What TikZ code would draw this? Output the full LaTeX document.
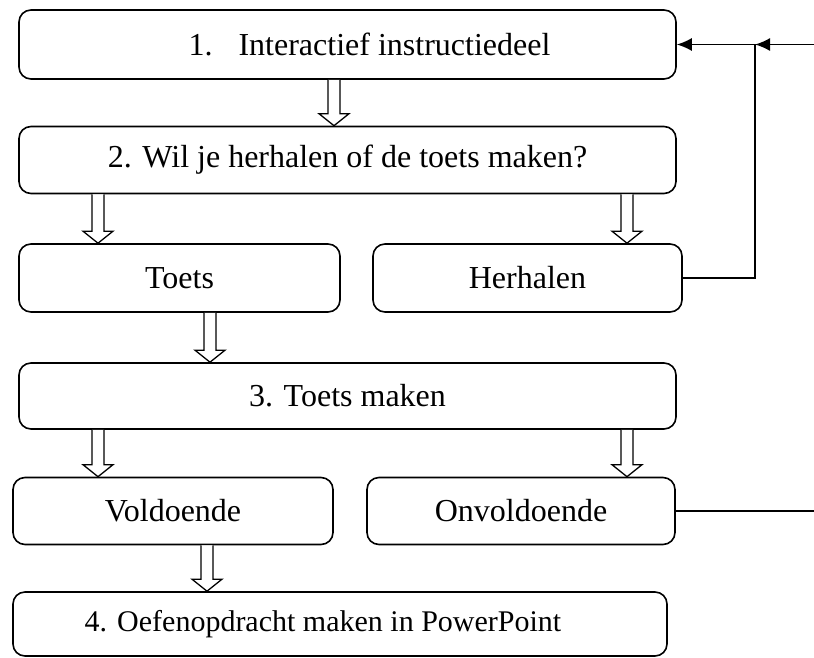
\documentclass[tikz,border=0pt]{standalone}
\usepackage{fontspec}
\setmainfont{Liberation Serif}
\usetikzlibrary{arrows.meta,calc}
\tikzset{>={Latex[length=15pt,width=13pt]}}
\tikzset{
  box/.style={draw, line width=1.6pt, rounded corners=12pt, inner sep=0pt,
    font=\fontsize{32}{36}\selectfont},
  hollow/.style={draw, line width=1.3pt, fill=white},
  link/.style={line width=1.6pt}
}
% hollow block arrow from the bottom of one box to the top of the next
\newcommand{\hollowdown}[3]{%
  \path (#1,0 |- #2.south) coordinate (ha) (#1,0 |- #3.north) coordinate (hb);
  \draw[hollow] ($(ha)+(-6,0)$) -- ($(hb)+(-6,12)$) -- ($(hb)+(-15,12)$) -- (hb)
    -- ($(hb)+(15,12)$) -- ($(hb)+(6,12)$) -- ($(ha)+(6,0)$);
}

\begin{document}
\begin{tikzpicture}[x=1pt,y=1pt]
\useasboundingbox (0,0) rectangle (814,-657);

	\node[box, minimum width=657pt, minimum height=69pt] (instr) at (347.5,-44.5)
		{\hspace*{44pt}1.\hspace{26pt}Interactief instructiedeel};
	\node[box, minimum width=657pt, minimum height=67pt] (keuze) at (347.5,-160)
		{2. Wil je herhalen of de toets maken?};
	\node[box, minimum width=321pt, minimum height=68pt] (toets) at (179.5,-278) {Toets};
	\node[box, minimum width=309pt, minimum height=68pt] (herh) at (527.5,-278) {Herhalen};
	\node[box, minimum width=657pt, minimum height=66pt] (maken) at (347.5,-396)
		{3. Toets maken};
	\node[box, minimum width=320pt, minimum height=67pt] (vold) at (173,-511) {Voldoende};
	\node[box, minimum width=308pt, minimum height=67pt] (onv) at (521,-511) {Onvoldoende};
	\node[box, minimum width=654pt, minimum height=64pt] (oef) at (340,-624)
		{\fontsize{30}{34}\selectfont 4. Oefenopdracht maken in PowerPoint\hspace*{34pt}};

	\hollowdown{334}{instr}{keuze}
	\hollowdown{98}{keuze}{toets}
	\hollowdown{627}{keuze}{herh}
	\hollowdown{210}{toets}{maken}
	\hollowdown{98}{maken}{vold}
	\hollowdown{627}{maken}{onv}
	\hollowdown{207}{vold}{oef}

	\coordinate (knik) at (755,-44.5);
	\coordinate (terug) at (814,-44.5);
	\coordinate (rand) at (814,-506);
	\draw[link,->] (herh.east) -| (knik) -- (instr.east);
	\draw[link,->] (terug) -- (knik);
	\draw[link] (onv.east) -- (onv.east -| rand);
\end{tikzpicture}
\end{document}
